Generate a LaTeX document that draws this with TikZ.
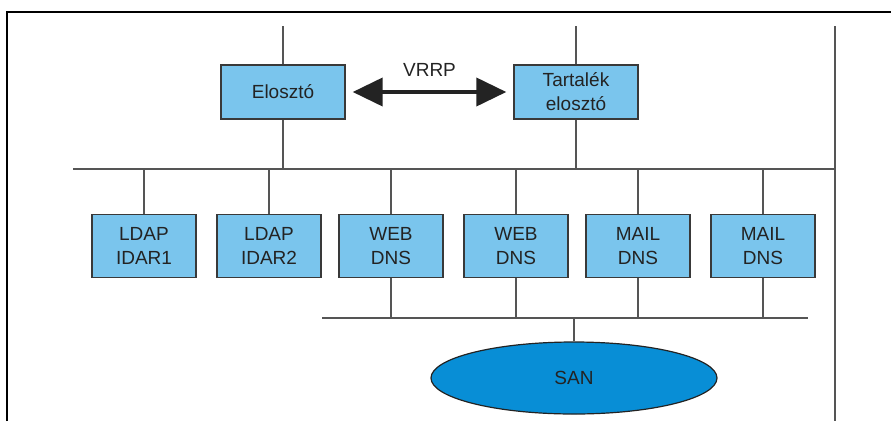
\documentclass[tikz,border=0pt]{standalone}
\usepackage{fontspec}
\setmainfont{Liberation Sans}
\usetikzlibrary{arrows.meta,shapes.geometric}
\definecolor{boxblue}{RGB}{122,197,237}
\definecolor{sanblue}{RGB}{8,142,214}
\definecolor{wire}{RGB}{85,85,85}
\definecolor{ink}{RGB}{35,35,35}
\tikzset{
  unit/.style={draw=ink!90, line width=1.4pt, fill=boxblue, minimum width=104pt,
    minimum height=63pt, inner sep=0pt, align=center, text=ink,
    font=\fontsize{19}{24}\selectfont},
  link/.style={draw=wire, line width=1.4pt},
}
\begin{document}
\begin{tikzpicture}[x=1pt,y=-1pt]
\useasboundingbox (0,0) rectangle (891,421);
\fill[white] (0,0) rectangle (891,421);
% outer frame (left and top edges)
\draw[black, line width=1.5pt] (7,421) -- (7,12) -- (891,12);

% directors
\node[unit, minimum width=124pt, minimum height=54pt] (elo) at (283,92) {Elosztó};
\node[unit, minimum width=124pt, minimum height=54pt] (tar) at (576,92) {Tartalék\\elosztó};

% uplinks and bus coordinates
\coordinate (eup) at (283,26);
\coordinate (tup) at (576,26);
\coordinate (busL) at (73,169);
\coordinate (busR) at (835,169);
\coordinate (rtop) at (835,26);
\coordinate (rbot) at (835,421);
\draw[link] (eup) -- (elo.north);
\draw[link] (tup) -- (tar.north);
\draw[link] (elo.south) -- (elo.south |- busL);
\draw[link] (tar.south) -- (tar.south |- busL);
\draw[link] (busL) -- (busR);
\draw[link] (rtop) -- (rbot);

% VRRP link between the directors
\draw[line width=4pt, {Triangle[length=30pt,width=28pt]}-{Triangle[length=30pt,width=28pt]}, ink]
  ([xshift=7pt]elo.east) -- ([xshift=-7pt]tar.west)
  node[midway, above=10pt, text=ink, font=\fontsize{19}{24}\selectfont] (vrrp) {VRRP};

% servers
\node[unit] (b1) at (144,246) {LDAP\\IDAR1};
\node[unit] (b2) at (269,246) {LDAP\\IDAR2};
\node[unit] (b3) at (391,246) {WEB\\DNS};
\node[unit] (b4) at (516,246) {WEB\\DNS};
\node[unit] (b5) at (638,246) {MAIL\\DNS};
\node[unit] (b6) at (763,246) {MAIL\\DNS};
\foreach \b in {b1,b2,b3,b4,b5,b6}
  \draw[link] (\b.north) -- (\b.north |- busL);

% storage bus
\coordinate (sbL) at (322,318);
\coordinate (sbR) at (808,318);
\draw[link] (sbL) -- (sbR);
\foreach \b in {b3,b4,b5,b6}
  \draw[link] (\b.south) -- (\b.south |- sbL);

% SAN
\node[ellipse, draw=ink, line width=1.2pt, fill=sanblue, minimum width=286pt,
  minimum height=72pt, inner sep=0pt, text=ink, font=\fontsize{19}{24}\selectfont]
  (san) at (574,378) {SAN};
\draw[link] (san.north) -- (san.north |- sbL);
\end{tikzpicture}
\end{document}
